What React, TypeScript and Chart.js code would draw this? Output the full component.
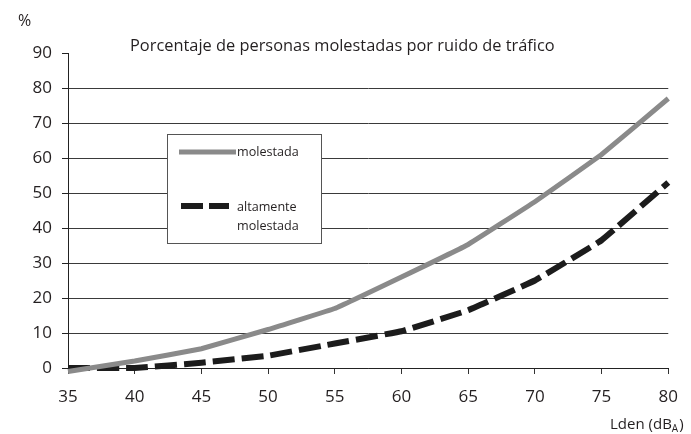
import React, { useEffect, useRef } from "react";
import { Chart, registerables } from "chart.js";

Chart.register(...registerables);

const categories = ["35", "40", "45", "50", "55", "60", "65", "70", "75", "80"];
const molestada = [-1, 2, 5.5, 11, 17, 26, 35.3, 47.5, 61, 77];
const altamenteMolestada = [0, 0, 1.5, 3.5, 7, 10.5, 16.5, 25, 36.5, 53];
const yTicks = [0, 10, 20, 30, 40, 50, 60, 70, 80, 90];
const titleText = "Porcentaje de personas molestadas por ruido de tráfico";
const yUnit = "%";
const xUnit = "Lden (dB";
const xUnitSub = "A";
const legendLabels = ["molestada", "altamente", "molestada"];

const FONT = "'Open Sans', 'Noto Sans', sans-serif";
const GRAY = "#8a8a8a";
const DARK = "#1c1c1c";
const TEXT = "#231f20";

const overlayPlugin = {
  id: "overlay",
  afterDraw(chart: any) {
    const ctx = chart.ctx as CanvasRenderingContext2D;
    ctx.save();
    ctx.fillStyle = TEXT;
    ctx.textBaseline = "middle";
    // title, fitted to the reference width
    let size = 16;
    ctx.font = `${size}px ${FONT}`;
    const w = ctx.measureText(titleText).width;
    size = (size * 425) / w;
    ctx.font = `${size}px ${FONT}`;
    ctx.textAlign = "left";
    ctx.fillText(titleText, 130, 46);
    // % label
    ctx.font = `16px ${FONT}`;
    ctx.fillText(yUnit, 18, 21);
    // x unit
    ctx.textAlign = "left";
    ctx.font = `15px ${FONT}`;
    const x0 = 610;
    ctx.fillText(xUnit, x0, 425);
    const mw = ctx.measureText(xUnit).width;
    ctx.font = `10px ${FONT}`;
    ctx.fillText(xUnitSub, x0 + mw, 429);
    const aw = ctx.measureText(xUnitSub).width;
    ctx.font = `15px ${FONT}`;
    ctx.fillText(")", x0 + mw + aw + 1, 425);

    // legend box
    const bx = 167, by = 134, bw = 154, bh = 109;
    ctx.fillStyle = "#fff";
    ctx.fillRect(bx, by, bw, bh);
    ctx.strokeStyle = "#555";
    ctx.lineWidth = 1;
    ctx.strokeRect(bx + 0.5, by + 0.5, bw, bh);

    ctx.lineWidth = 5;
    ctx.strokeStyle = GRAY;
    ctx.beginPath();
    ctx.moveTo(179, 152);
    ctx.lineTo(236, 152);
    ctx.stroke();

    ctx.strokeStyle = DARK;
    ctx.lineWidth = 6;
    ctx.setLineDash([22, 6]);
    ctx.beginPath();
    ctx.moveTo(181, 206);
    ctx.lineTo(229, 206);
    ctx.stroke();
    ctx.setLineDash([]);

    ctx.fillStyle = TEXT;
    ctx.textAlign = "left";
    ctx.font = `12.6px ${FONT}`;
    ctx.fillText(legendLabels[0], 237, 152);
    ctx.fillText(legendLabels[1], 237, 207);
    ctx.fillText(legendLabels[2], 237, 226);
    ctx.restore();
  },
};

export default function App() {
  const ref = useRef<HTMLCanvasElement | null>(null);
  useEffect(() => {
    if (!ref.current) return;
    const chart = new Chart(ref.current, {
      type: "line",
      data: {
        labels: categories,
        datasets: [
          {
            label: "molestada",
            data: molestada,
            borderColor: GRAY,
            borderWidth: 5,
            pointRadius: 0,
            tension: 0.05,
            clip: false as any,
            fill: false,
          },
          {
            label: "altamente molestada",
            data: altamenteMolestada,
            borderColor: DARK,
            borderWidth: 6,
            borderDash: [22, 7],
            pointRadius: 0,
            tension: 0.05,
            clip: false as any,
            fill: false,
          },
        ],
      },
      options: {
        responsive: false,
        animation: false,
        layout: { padding: { left: 0, right: 10, top: 53, bottom: 0 } },
        plugins: {
          legend: { display: false },
          tooltip: { enabled: false },
          title: { display: false },
        },
        scales: {
          x: {
            type: "category",
            offset: false,
            grid: {
              drawOnChartArea: false,
              drawTicks: true,
              tickLength: 6,
              tickColor: "#333",
            },
            border: { display: true, color: "#222", width: 1 },
            ticks: {
              color: TEXT,
              font: { family: FONT, size: 17 },
              padding: 13,
              maxRotation: 0,
              autoSkip: false,
            },
            afterFit(scale: any) {
              scale.height = 66;
            },
          },
          y: {
            min: 0,
            max: 90,
            afterBuildTicks(scale: any) {
              scale.ticks = yTicks.map((v) => ({ value: v }));
            },
            grid: {
              color: (c: any) => (c.tick && c.tick.value === 90 ? "rgba(0,0,0,0)" : "#3a3a3a"),
              lineWidth: 1,
              drawTicks: true,
              tickLength: 6,
              tickColor: "#222",
            },
            border: { display: true, color: "#222", width: 1 },
            ticks: {
              color: TEXT,
              font: { family: FONT, size: 17 },
              padding: 10,
            },
            afterFit(scale: any) {
              scale.width = 68;
            },
          },
        },
      },
      plugins: [overlayPlugin],
    });
    return () => chart.destroy();
  }, []);
  return (
    <div style={{ position: "absolute", left: 0, top: 0, width: 691, height: 434, background: "#fff" }}>
      <canvas ref={ref} width={691} height={434} />
    </div>
  );
}
